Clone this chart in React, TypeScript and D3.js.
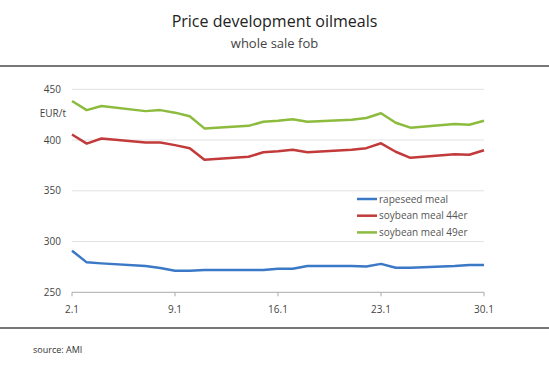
import React from "react";
import * as d3 from "d3";

const days = [2, 3, 4, 7, 8, 9, 10, 11, 14, 15, 16, 17, 18, 21, 22, 23, 24, 25, 28, 29, 30];
const rapeseed = [291, 279.5, 278.5, 276, 274, 271.3, 271.3, 272, 272, 272, 273.3, 273.3, 276, 275.8, 275.5, 278, 274.2, 274.2, 276, 277, 277];
const soy44 = [405.5, 396.5, 401.5, 397.5, 397.5, 395, 392, 380.5, 383.5, 388, 389, 390.5, 388, 390.5, 392, 396.8, 388.5, 382.5, 386, 385.5, 390];
const soy49 = [438.5, 429.5, 433.5, 428.5, 429.5, 427, 423.5, 411.5, 414, 418, 419, 420.5, 418, 420, 421.7, 426.4, 417, 412.2, 415.8, 415, 419];
const yTicks = [250, 300, 350, 400, 450];
const xTickDays = [2, 9, 16, 23, 30];
const xTickLabels = ["2.1", "9.1", "16.1", "23.1", "30.1"];
const seriesNames = ["rapeseed meal", "soybean meal 44er", "soybean meal 49er"];
const seriesColors = ["#3b78c6", "#c23a3a", "#8cbb3e"];

const W = 549;
const H = 375;
const font = "'Open Sans', sans-serif";

export default function App() {
  const x = d3.scaleLinear().domain([2, 30]).range([72, 484]);
  const y = d3.scaleLinear().domain([250, 450]).range([292.3, 89.3]);
  const series = [rapeseed, soy44, soy49];
  const line = d3
    .line<number>()
    .x((_, i) => x(days[i]))
    .y((v) => y(v));

  return (
    <div style={{ position: "absolute", left: 0, top: 0 }}>
      <svg width={W} height={H} style={{ display: "block", background: "#fff" }}>
        <text x={274.5} y={27} textAnchor="middle" fontFamily={font} fontSize={16} fill="#222">
          Price development oilmeals
        </text>
        <text x={274.5} y={48} textAnchor="middle" fontFamily={font} fontSize={13} fill="#444">
          whole sale fob
        </text>
        <line x1={0} x2={W} y1={66} y2={66} stroke="#777" strokeWidth={2} />
        <line x1={0} x2={W} y1={328} y2={328} stroke="#777" strokeWidth={2} />

        {yTicks.map((t) => (
          <g key={t}>
            {t !== 250 && (
              <line x1={72} x2={484} y1={y(t)} y2={y(t)} stroke="#e2e2e2" strokeWidth={1} />
            )}
            <text x={61} y={y(t) + 3.5} textAnchor="end" fontFamily={font} fontSize={10} fill="#444">
              {t}
            </text>
          </g>
        ))}
        <text x={66} y={117} textAnchor="end" fontFamily={font} fontSize={10} fill="#444">
          EUR/t
        </text>

        <line x1={72} x2={484} y1={y(250)} y2={y(250)} stroke="#aaa" strokeWidth={1} />
        {xTickDays.map((d, i) => (
          <g key={d}>
            <line x1={x(d)} x2={x(d)} y1={y(250)} y2={y(250) + 4} stroke="#aaa" strokeWidth={1} />
            <text x={x(d)} y={313} textAnchor="middle" fontFamily={font} fontSize={10} fill="#444">
              {xTickLabels[i]}
            </text>
          </g>
        ))}

        {series.map((s, i) => (
          <path key={i} d={line(s) || ""} fill="none" stroke={seriesColors[i]} strokeWidth={2.5} strokeLinejoin="round" />
        ))}

        {seriesNames.map((n, i) => (
          <g key={n}>
            <line x1={357} x2={377} y1={199 + i * 16.7} y2={199 + i * 16.7} stroke={seriesColors[i]} strokeWidth={2.5} />
            <text x={379} y={199 + i * 16.7 + 3.5} fontFamily={font} fontSize={10} fill="#555">
              {n}
            </text>
          </g>
        ))}

        <text x={33} y={353} fontFamily={font} fontSize={9} fill="#333">
          source: AMI
        </text>
      </svg>
    </div>
  );
}
